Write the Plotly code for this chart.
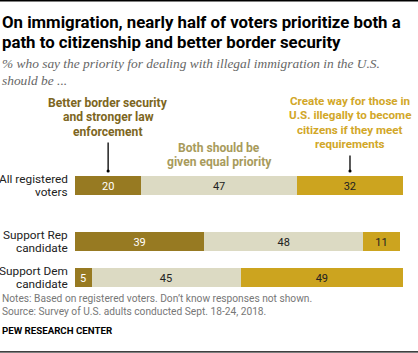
import plotly.graph_objects as go

categories = ["All registered voters", "Support Rep candidate", "Support Dem candidate"]
cat_lines = [["All registered", "voters"], ["Support Rep", "candidate"], ["Support Dem", "candidate"]]
row_pos = [0, 1.556, 2.556]

series_names = ["Better border security and stronger law enforcement",
                "Both should be given equal priority",
                "Create way for those in U.S. illegally to become citizens if they meet requirements"]
border = [20, 39, 5]
both = [47, 48, 45]
citizen = [32, 11, 49]

colors = ["#977a22", "#dcdac3", "#cca41f"]
text_colors = ["#ffffff", "#222222", "#222222"]
label_colors = ["#7d6622", "#a89b5c", "#d2a728"]

W, H = 418, 353
FONT = "Roboto, Liberation Sans, sans-serif"

def py(p):
    return 1 - p / H

fig = go.Figure()
for vals, name, c, tc in zip([border, both, citizen], series_names, colors, text_colors):
    fig.add_trace(go.Bar(
        y=row_pos, x=vals, orientation="h", name=name,
        marker=dict(color=c, line=dict(width=0)),
        width=0.53,
        text=[str(v) for v in vals], textposition="inside",
        insidetextanchor="middle", textangle=0,
        textfont=dict(color=tc, size=13.5, family=FONT),
        hoverinfo="skip",
    ))

annotations = []
# Title
for txt, yc in [("On immigration, nearly half of voters prioritize both a", 22),
                ("path to citizenship and better border security", 42)]:
    annotations.append(dict(text="<b>" + txt + "</b>", x=0, xref="paper", xanchor="left",
                            y=py(yc), yref="paper", yanchor="middle", showarrow=False,
                            font=dict(size=16.8, color="#000000", family=FONT)))
# Subtitle
for txt, yc in [("% who say the priority for dealing with illegal immigration in the U.S.", 64),
                ("should be ...", 80)]:
    annotations.append(dict(text="<i>" + txt + "</i>", x=0, xref="paper", xanchor="left",
                            y=py(yc), yref="paper", yanchor="middle", showarrow=False,
                            font=dict(size=13.4, color="#666666", family="Liberation Serif, Georgia, serif")))

# Series labels above first row, at segment centers
c0 = border[0] / 2
c1 = border[0] + both[0] / 2
c2 = border[0] + both[0] + citizen[0] / 2
label_specs = [
    (c0, ["Better border security", "and stronger law", "enforcement"], 103, label_colors[0], 12.1),
    (c1, ["Both should be", "given equal priority"], 148, label_colors[1], 12.1),
    (c2, ["Create way for those in", "U.S. illegally to become", "citizens if they meet", "requirements"], 101, label_colors[2], 11.6),
]
for xc, lines, y0, col, fs in label_specs:
    for i, ln in enumerate(lines):
        annotations.append(dict(text="<b>" + ln + "</b>", x=xc, xref="x", xanchor="center",
                                y=py(y0 + i * 14.3), yref="paper", yanchor="middle", showarrow=False,
                                font=dict(size=fs, color=col, family=FONT)))
# Arrows
for xc, tail in [(c0, 30), (c2, 17)]:
    annotations.append(dict(text="", x=xc, xref="x", y=py(171), yref="paper",
                            showarrow=True, ax=0, ay=-tail, arrowhead=6, arrowsize=0.6,
                            arrowwidth=1.3, arrowcolor="#000000", standoff=0))

# Category labels
for pos, lines in zip(row_pos, cat_lines):
    for ln, shift in zip(lines, [6.8, -6.8]):
        annotations.append(dict(text=ln, x=70 / W, xref="paper", xanchor="right",
                                y=pos, yref="y", yanchor="middle", yshift=shift, showarrow=False,
                                font=dict(size=11.8, color="#222222", family=FONT)))

# Notes
for txt, yc, bold, col, fs in [("Notes: Based on registered voters. Don\u2019t know responses not shown.", 298, False, "#777777", 10.2),
                               ("Source: Survey of U.S. adults conducted Sept. 18-24, 2018.", 311, False, "#777777", 10.2),
                               ("PEW RESEARCH CENTER", 330, True, "#000000", 9.7)]:
    annotations.append(dict(text=("<b>" + txt + "</b>") if bold else txt, x=0, xref="paper", xanchor="left",
                            y=py(yc), yref="paper", yanchor="middle", showarrow=False,
                            font=dict(size=fs, color=col, family=FONT)))

shapes = [
    dict(type="line", xref="paper", yref="paper", x0=0, x1=1, y0=py(0.8), y1=py(0.8),
         line=dict(color="#000000", width=1.6)),
    dict(type="line", xref="paper", yref="paper", x0=0, x1=1, y0=py(351.8), y1=py(351.8),
         line=dict(color="#000000", width=1.2)),
]

y_top_px, y_bot_px = 185.5 - 18, 277.5 + 18
fig.update_layout(
    width=W, height=H, barmode="stack", showlegend=False,
    margin=dict(l=0, r=0, t=0, b=0),
    paper_bgcolor="#ffffff", plot_bgcolor="#ffffff",
    xaxis=dict(domain=[75 / W, 403 / W], range=[0, 99], visible=False, fixedrange=True),
    yaxis=dict(domain=[py(y_bot_px), py(y_top_px)], range=[3.056, -0.5], visible=False, fixedrange=True),
    annotations=annotations, shapes=shapes,
    font=dict(family=FONT),
)
fig.write_html("out.html")
